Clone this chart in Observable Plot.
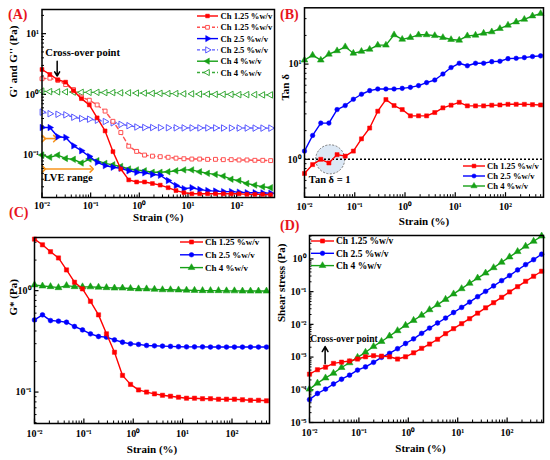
<!DOCTYPE html>
<html><head><meta charset="utf-8">
<script src="https://cdn.jsdelivr.net/npm/d3@7"></script>
<script src="https://cdn.jsdelivr.net/npm/@observablehq/plot@0.6"></script>
<style>
body{margin:0;background:#fff}
#fig{position:relative;width:550px;height:460px;font-family:'Liberation Serif','Times New Roman',serif;font-weight:bold;overflow:hidden}
.panel{position:absolute}
.plab{position:absolute;color:#e8141c;font-size:14px;font-weight:bold;line-height:1}
</style></head><body><div id="fig"></div>
<script>
// ---------- data ----------
const strain = [0.01, 0.0145, 0.0211, 0.0306, 0.0445, 0.0646, 0.0938, 0.136, 0.198, 0.287, 0.417, 0.606, 0.880, 1.28, 1.86, 2.69, 3.91, 5.68, 8.25, 12.0, 17.4, 25.3, 36.7, 53.3, 77.4, 112, 163, 237, 344, 500];
const seriesNames = ["Ch 1.25 %w/v", "Ch 2.5 %w/v", "Ch 4 %w/v"];
// (A) G' (filled) and G'' (open)
const gp125  = [2.57, 2.13, 1.74, 1.59, 1.15, 0.85, 0.67, 0.41, 0.25, 0.114, 0.059, 0.039, 0.036, 0.036, 0.034, 0.032, 0.029, 0.026, 0.024, 0.023, 0.023, 0.023, 0.023, 0.023, 0.023, 0.023, 0.0225, 0.0225, 0.0225, 0.0222];
const gpp125 = [1.81, 1.85, 1.70, 1.45, 1.2, 0.9, 0.8, 0.67, 0.53, 0.36, 0.235, 0.14, 0.115, 0.1, 0.096, 0.094, 0.092, 0.089, 0.087, 0.086, 0.086, 0.085, 0.085, 0.084, 0.084, 0.083, 0.083, 0.082, 0.082, 0.081];
const gp25   = [0.284, 0.284, 0.2, 0.195, 0.142, 0.118, 0.095, 0.076, 0.067, 0.063, 0.0605, 0.055, 0.052, 0.051, 0.048, 0.0465, 0.038, 0.0315, 0.028, 0.029, 0.027, 0.026, 0.0255, 0.025, 0.025, 0.0245, 0.024, 0.024, 0.0238, 0.0235];
const gpp25  = [0.51, 0.48, 0.47, 0.46, 0.42, 0.40, 0.39, 0.375, 0.357, 0.34, 0.32, 0.305, 0.29, 0.285, 0.284, 0.283, 0.282, 0.281, 0.28, 0.28, 0.28, 0.28, 0.28, 0.279, 0.279, 0.279, 0.279, 0.278, 0.278, 0.278];
const gp4    = [0.1, 0.092, 0.1, 0.088, 0.085, 0.074, 0.086, 0.081, 0.073, 0.069, 0.065, 0.059, 0.057, 0.055, 0.052, 0.052, 0.053, 0.055, 0.057, 0.057, 0.053, 0.05, 0.048, 0.045, 0.04, 0.038, 0.034, 0.032, 0.030, 0.029];
const gpp4   = [1.13, 1.11, 1.1, 1.1, 1.09, 1.08, 1.08, 1.08, 1.07, 1.07, 1.06, 1.06, 1.05, 1.05, 1.04, 1.04, 1.03, 1.03, 1.02, 1.02, 1.01, 1.01, 1.0, 1.0, 1.0, 0.99, 0.99, 0.99, 0.98, 0.98];
// (B) tan delta
const tan125 = [0.71, 0.88, 1.0, 0.915, 1.12, 1.08, 1.22, 1.64, 2.13, 3.2, 4.24, 3.67, 3.33, 2.86, 2.86, 2.86, 3.1, 3.47, 3.7, 3.97, 3.64, 3.64, 3.64, 3.7, 3.72, 3.78, 3.78, 3.78, 3.75, 3.72];
const tan25  = [1.22, 1.78, 2.4, 2.4, 3.33, 3.67, 4.27, 4.82, 5.26, 5.48, 5.48, 5.48, 5.56, 5.7, 5.94, 6.39, 6.8, 7.86, 9.2, 10.2, 9.6, 10.2, 10.2, 10.6, 10.7, 11.4, 11.5, 11.7, 12.0, 12.2];
const tan4   = [11.0, 12.4, 11.0, 12.7, 13.8, 15.2, 13.0, 13.6, 14.3, 15.8, 15.8, 20.3, 18.2, 19.0, 20.3, 20.3, 19.9, 19.0, 18.1, 17.8, 19.8, 20.1, 21.1, 21.8, 23.6, 25.6, 27.7, 29.5, 32.0, 33.9];
// (C) G*
const gs125 = [3.22, 2.83, 2.42, 2.1, 1.6, 1.21, 1.04, 0.785, 0.577, 0.375, 0.247, 0.146, 0.119, 0.105, 0.1, 0.096, 0.093, 0.091, 0.089, 0.087, 0.087, 0.086, 0.086, 0.085, 0.085, 0.085, 0.084, 0.083, 0.083, 0.082];
const gs25  = [0.514, 0.577, 0.507, 0.5, 0.488, 0.443, 0.41, 0.375, 0.353, 0.348, 0.327, 0.31, 0.299, 0.295, 0.288, 0.286, 0.284, 0.282, 0.28, 0.279, 0.279, 0.279, 0.278, 0.278, 0.278, 0.278, 0.278, 0.278, 0.278, 0.278];
const gs4   = [1.14, 1.11, 1.095, 1.07, 1.12, 1.095, 1.09, 1.09, 1.08, 1.07, 1.06, 1.06, 1.05, 1.04, 1.04, 1.03, 1.02, 1.02, 1.015, 1.01, 1.005, 1.0, 1.0, 1.0, 0.995, 0.995, 0.99, 0.99, 0.99, 0.99];
// (D) shear stress
const ss125 = [3.0e-4, 4.1e-4, 4.9e-4, 6.4e-4, 7.0e-4, 7.6e-4, 8.7e-4, 1.02e-3, 1.1e-3, 1.07e-3, 1.02e-3, 8.7e-4, 1.02e-3, 1.35e-3, 1.85e-3, 2.5e-3, 3.5e-3, 5.2e-3, 7.4e-3, 1.05e-2, 1.49e-2, 2.2e-2, 3.2e-2, 4.6e-2, 6.7e-2, 9.8e-2, 0.142, 0.207, 0.295, 0.42];
const ss25  = [5.0e-5, 7.7e-5, 1.05e-4, 1.5e-4, 2.1e-4, 2.8e-4, 4.0e-4, 5.0e-4, 6.9e-4, 9.8e-4, 1.3e-3, 1.8e-3, 2.6e-3, 3.6e-3, 5.3e-3, 7.7e-3, 1.1e-2, 1.56e-2, 2.3e-2, 3.3e-2, 4.8e-2, 7.0e-2, 0.102, 0.149, 0.217, 0.31, 0.46, 0.67, 0.95, 1.39];
const ss4   = [1.05e-4, 1.6e-4, 2.3e-4, 3.2e-4, 4.8e-4, 6.7e-4, 9.8e-4, 1.4e-3, 2.1e-3, 3.0e-3, 4.4e-3, 6.4e-3, 9.3e-3, 1.32e-2, 1.9e-2, 2.8e-2, 4.0e-2, 5.8e-2, 8.5e-2, 0.123, 0.18, 0.26, 0.37, 0.54, 0.79, 1.15, 1.68, 2.44, 3.47, 5.0];

// ticks
const xTicks = [0.01, 0.1, 1, 10, 100];
const xTickLabels = ["10⁻²", "10⁻¹", "10⁰", "10¹", "10²"];
const yTicksA = [0.1, 1, 10], yTickLabelsA = ["10⁻¹", "10⁰", "10¹"];
const yTicksB = [1, 10], yTickLabelsB = ["10⁰", "10¹"];
const yTicksC = [0.1, 1], yTickLabelsC = ["10⁻¹", "10⁰"];
const yTicksD = [1e-5, 1e-4, 1e-3, 1e-2, 1e-1, 1], yTickLabelsD = ["10⁻⁵", "10⁻⁴", "10⁻³", "10⁻²", "10⁻¹", "10⁰"];

// annotations (data space)
const crossA = [{x: 0.0205, y1: 3.5, y2: 2.0}];
const crossAText = [{x: 0.0117, y: 4.8, t: "Cross-over point"}];
const lveArrows = [{x1: 0.0109, x2: 0.0187, y: 0.187}, {x1: 0.0109, x2: 0.105, y: 0.059}];
const lveText = [{x: 0.0109, y: 0.042, t: "LVE range"}];
const tanCircle = [{x: 0.0324, y: 1}];
const tanText = [{x: 0.0122, y: 0.61, t: "Tan δ = 1"}];
const crossD = [{x: 0.0207, y1: 6.2e-4, y2: 2.1e-3}];
const crossDText = [{x: 0.0103, y: 3.7e-3, t: "Cross-over point"}];

// ---------- styling ----------
const FONT = "'Liberation Serif','Times New Roman',serif";
const RED = "#ff0000", BLUE = "#0000ff", GREEN = "#16a016";
const RED2 = "#ff5050", BLUE2 = "#5a5aff", GREEN2 = "#3aaa3a";
const fig = document.getElementById("fig");

function rows(ys) { return strain.map((s, i) => ({s, v: ys[i]})); }
function series(ys, {color, symbol, rotate = 0, open = false, dashed = false, r = 2.5}) {
  const d = rows(ys);
  return [
    Plot.line(d, {x: "s", y: "v", stroke: color, strokeWidth: 1.4, strokeDasharray: dashed ? "4,3" : null}),
    Plot.dot(d, {x: "s", y: "v", symbol, r, rotate, fill: open ? "white" : color, stroke: color, strokeWidth: open ? 1 : 0.5})
  ];
}
function isMajor(t, majors) { return majors.some(m => Math.abs(t / m - 1) < 1e-6); }
function axes(xDomain, yDomain, yTicks, yLabels, xLabel, yLabel, o) {
  const xMinor = d3.scaleLog().domain(xDomain).ticks().filter(t => !isMajor(t, xTicks));
  const yMinor = d3.scaleLog().domain(yDomain).ticks().filter(t => !isMajor(t, yTicks));
  return [
    Plot.axisX(xMinor, {tickSize: -2.5, fill: "none", label: null, strokeWidth: 1}),
    Plot.axisX(xTicks, {tickSize: -4.5, fill: "none", label: null, strokeWidth: 1.2}),
    Plot.axisX(xTicks, {tickSize: 0, tickPadding: o.xpad, label: null, fontSize: 10, tickFormat: d => xTickLabels[xTicks.indexOf(d)]}),
    Plot.axisY(yMinor, {tickSize: -2.5, fill: "none", label: null, strokeWidth: 1}),
    Plot.axisY(yTicks, {tickSize: -4.5, fill: "none", label: null, strokeWidth: 1.2}),
    Plot.axisY(yTicks, {tickSize: 0, tickPadding: 3, label: null, fontSize: 10, tickFormat: d => yLabels[yTicks.indexOf(d)]}),
    Plot.text([xLabel], {frameAnchor: "bottom", dy: o.xdy, dx: o.xdx || 0, fontSize: 11, fontWeight: "bold", fill: "black"}),
    Plot.text([yLabel], {frameAnchor: "left", rotate: -90, dx: o.ydx, dy: o.ydy || 0, fontSize: 11, fontWeight: "bold", fill: "black"})
  ];
}
function panel({left, top, width, height, ml, mr, mt, mb, xDomain, yDomain, marks}) {
  const p = Plot.plot({
    width, height, marginLeft: ml, marginRight: mr, marginTop: mt, marginBottom: mb,
    x: {type: "log", domain: xDomain},
    y: {type: "log", domain: yDomain},
    style: {fontFamily: FONT, fontWeight: "bold", fontSize: "10px", background: "transparent", overflow: "visible", color: "black"},
    marks: [...marks, Plot.frame({stroke: "black", strokeWidth: 1.5})]
  });
  p.classList.add("panel");
  p.style.left = left + "px"; p.style.top = top + "px";
  fig.appendChild(p);
}
const symMap = {square: d3.symbolSquare, circle: d3.symbolCircle, triangle: d3.symbolTriangle};
function legend(left, top0, dy, items, lineW = 21, gap = 3, fs = 9) {
  const svg = d3.create("svg").attr("width", 130).attr("height", dy * items.length + 12)
    .style("position", "absolute").style("left", left + "px").style("top", (top0 - 6) + "px").style("overflow", "visible");
  items.forEach((it, i) => {
    const y = 6 + i * dy, r = it.r || 2.3;
    svg.append("line").attr("x1", 0).attr("x2", lineW).attr("y1", y).attr("y2", y)
      .attr("stroke", it.color).attr("stroke-width", 1.4).attr("stroke-dasharray", it.dashed ? "3,2" : null);
    svg.append("path").attr("d", d3.symbol(symMap[it.symbol], Math.PI * r * r)())
      .attr("transform", `translate(${lineW / 2},${y}) rotate(${it.rotate || 0})`)
      .attr("fill", it.open ? "white" : it.color).attr("stroke", it.color).attr("stroke-width", it.open ? 1 : 0.5);
    svg.append("text").attr("x", lineW + gap).attr("y", y).attr("dy", "0.35em").text(it.label)
      .attr("font-size", fs).attr("font-family", FONT).attr("font-weight", "bold").attr("fill", "black");
  });
  fig.appendChild(svg.node());
}
function plabel(text, left, top) {
  const d = document.createElement("div"); d.className = "plab"; d.textContent = text;
  d.style.left = left + "px"; d.style.top = top + "px"; fig.appendChild(d);
}

// ---------- (A) ----------
panel({left: 0, top: 0, width: 280, height: 230, ml: 41.5, mr: 6, mt: 9, mb: 33,
  xDomain: [0.01, 600], yDomain: [0.02, 25],
  marks: [
    ...axes([0.01, 600], [0.02, 25], yTicksA, yTickLabelsA, "Strain (%)", "G' and G'' (Pa)", {xpad: 4, xdy: 23, ydx: -28.5, ydy: -6}),
    Plot.link(lveArrows, {x1: "x1", x2: "x2", y1: "y", y2: "y", stroke: "#f7941d", strokeWidth: 1.6, markerStart: "arrow", markerEnd: "arrow"}),
    ...series(gpp4, {color: GREEN2, symbol: "triangle", rotate: -90, open: true, dashed: true, r: 2.4}),
    ...series(gpp25, {color: BLUE2, symbol: "triangle", rotate: 90, open: true, dashed: true, r: 2.4}),
    ...series(gpp125, {color: RED2, symbol: "square", open: true, dashed: true, r: 2.2}),
    ...series(gp4, {color: GREEN, symbol: "triangle", rotate: -90, r: 2.4}),
    ...series(gp25, {color: BLUE, symbol: "triangle", rotate: 90, r: 2.4}),
    ...series(gp125, {color: RED, symbol: "square", r: 2.2}),
    Plot.arrow(crossA, {x1: "x", x2: "x", y1: "y1", y2: "y2", stroke: "black", strokeWidth: 1.5, headLength: 6}),
    Plot.text(crossAText, {x: "x", y: "y", text: "t", textAnchor: "start", fontSize: 10.5, fontWeight: "bold", fill: "black"}),
    Plot.text(lveText, {x: "x", y: "y", text: "t", textAnchor: "start", fontSize: 10.5, fontWeight: "bold", fill: "black"})
  ]});
legend(197, 15.7, 11.3, [
  {label: seriesNames[0], color: RED, symbol: "square", r: 2.1},
  {label: seriesNames[0], color: RED2, symbol: "square", open: true, dashed: true, r: 2.1},
  {label: seriesNames[1], color: BLUE, symbol: "triangle", rotate: 90},
  {label: seriesNames[1], color: BLUE2, symbol: "triangle", rotate: 90, open: true, dashed: true},
  {label: seriesNames[2], color: GREEN, symbol: "triangle", rotate: -90},
  {label: seriesNames[2], color: GREEN2, symbol: "triangle", rotate: -90, open: true, dashed: true}
], 21, 2.5, 8.6);
plabel("(A)", 8, 8);

// ---------- (B) ----------
panel({left: 275, top: 0, width: 275, height: 230, ml: 29, mr: 7, mt: 7.3, mb: 33.3,
  xDomain: [0.01, 570], yDomain: [0.4, 39],
  marks: [
    ...axes([0.01, 570], [0.4, 39], yTicksB, yTickLabelsB, "Strain (%)", "Tan δ", {xpad: 6, xdy: 28, ydx: -19, ydy: -2}),
    Plot.dot(tanCircle, {x: "x", y: "y", r: 14.5, fill: "#d6e4f3", fillOpacity: 0.85, stroke: "#777", strokeWidth: 1, strokeDasharray: "2,1.5"}),
    Plot.ruleY([1], {stroke: "black", strokeWidth: 1.5, strokeDasharray: "2,2"}),
    ...series(tan4, {color: GREEN, symbol: "triangle", r: 2.5}),
    ...series(tan25, {color: BLUE, symbol: "circle", r: 2.3}),
    ...series(tan125, {color: RED, symbol: "square", r: 2.3}),
    Plot.text(tanText, {x: "x", y: "y", text: "t", textAnchor: "start", fontSize: 10.5, fontWeight: "bold", fill: "black"})
  ]});
legend(462.7, 166, 10, [
  {label: seriesNames[0], color: RED, symbol: "square", r: 2.1},
  {label: seriesNames[1], color: BLUE, symbol: "circle", r: 2.1},
  {label: seriesNames[2], color: GREEN, symbol: "triangle", r: 2.3}
], 22, 2, 8.6);
plabel("(B)", 280, 8);

// ---------- (C) ----------
panel({left: 0, top: 225, width: 275, height: 235, ml: 34, mr: 6, mt: 12, mb: 37,
  xDomain: [0.01, 575], yDomain: [0.049, 3.34],
  marks: [
    ...axes([0.01, 575], [0.049, 3.34], yTicksC, yTickLabelsC, "Strain (%)", "G* (Pa)", {xpad: 6, xdy: 29, ydx: -21, ydy: -15}),
    ...series(gs4, {color: GREEN, symbol: "triangle", r: 2.6}),
    ...series(gs25, {color: BLUE, symbol: "circle", r: 2.4}),
    ...series(gs125, {color: RED, symbol: "square", r: 2.4})
  ]});
legend(180, 241.7, 12.8, [
  {label: seriesNames[0], color: RED, symbol: "square", r: 2.3},
  {label: seriesNames[1], color: BLUE, symbol: "circle", r: 2.3},
  {label: seriesNames[2], color: GREEN, symbol: "triangle", r: 2.5}
], 23, 2, 9);
plabel("(C)", 9, 206);

// ---------- (D) ----------
panel({left: 275, top: 225, width: 275, height: 235, ml: 34, mr: 7, mt: 10, mb: 38,
  xDomain: [0.01, 545], yDomain: [1e-5, 5.2],
  marks: [
    ...axes([0.01, 545], [1e-5, 5.2], yTicksD, yTickLabelsD, "Strain (%)", "Shear stress (Pa)", {xpad: 6, xdy: 29, xdx: -6, ydx: -28, ydy: -7}),
    ...series(ss4, {color: GREEN, symbol: "triangle", r: 2.6}),
    ...series(ss25, {color: BLUE, symbol: "circle", r: 2.4}),
    ...series(ss125, {color: RED, symbol: "square", r: 2.4}),
    Plot.arrow(crossD, {x1: "x", x2: "x", y1: "y1", y2: "y2", stroke: "black", strokeWidth: 1.5, headLength: 6}),
    Plot.text(crossDText, {x: "x", y: "y", text: "t", textAnchor: "start", fontSize: 9.5, fontWeight: "bold", fill: "black"})
  ]});
legend(311, 241, 12.3, [
  {label: seriesNames[0], color: RED, symbol: "square", r: 2.3},
  {label: seriesNames[1], color: BLUE, symbol: "circle", r: 2.3},
  {label: seriesNames[2], color: GREEN, symbol: "triangle", r: 2.5}
], 23, 2, 9.5);
plabel("(D)", 280, 219);
</script></body></html>
